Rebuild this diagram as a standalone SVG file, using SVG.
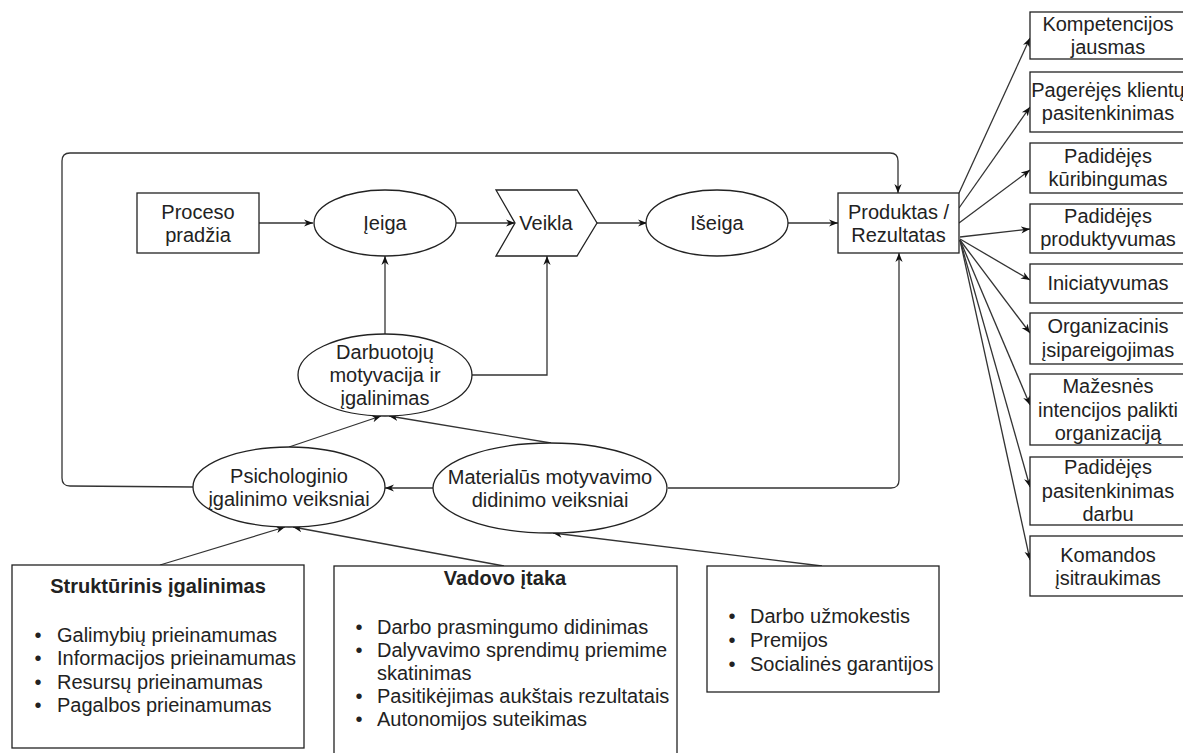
<svg xmlns="http://www.w3.org/2000/svg" width="1183" height="753" viewBox="0 0 1183 753">
<style>
text{font-family:"Liberation Sans",Arial,sans-serif;font-size:20px;fill:#222}
.c{text-anchor:middle}
.b{font-weight:bold}
.n{fill:#fff;stroke:#222;stroke-width:1.3}
.e{fill:none;stroke:#333;stroke-width:1.3}
</style>
<defs>
<marker id="a" viewBox="0 0 10 10" refX="10" refY="5" markerWidth="9" markerHeight="9" markerUnits="userSpaceOnUse" orient="auto"><path d="M0,1 L10,5 L0,9 L3,5 z" fill="#111"/></marker>
</defs>
<rect width="1183" height="753" fill="#fff"/>
<g id="connectors" class="e" marker-end="url(#a)">
<path d="M259,223 H313"/>
<path d="M456,223 H515"/>
<path d="M597,223 H647"/>
<path d="M788,223 H838"/>
<path d="M385,334 V256"/>
<path d="M472,375 H547 V256"/>
<path d="M289,447 L381,416"/>
<path d="M551,443 L389,416"/>
<path d="M433,488 H385"/>
<path d="M193,487 L70,486 Q62,486 62,478 V161 Q62,153 70,153 H890 Q898,153 898,161 V193"/>
<path d="M668,488 H891 Q899,488 899,480 V253"/>
<path d="M160,565 L285,527"/>
<path d="M504,566 L293,527"/>
<path d="M822,566 L553,533"/>
<path d="M959,193 L1030,38"/>
<path d="M959,208 L1030,107"/>
<path d="M959,223 L1030,170"/>
<path d="M960,237 L1030,229"/>
<path d="M960,239 L1030,280"/>
<path d="M960,240 L1030,333"/>
<path d="M960,240 L1030,405"/>
<path d="M960,240 L1030,487"/>
<path d="M960,240 L1030,560"/>
</g>
<g id="proceso"><rect class="n" x="137" y="193" width="122" height="60"/><text class="c" x="198" y="219">Proceso</text><text class="c" x="198" y="242">pradžia</text></g>
<g id="ieiga"><ellipse class="n" cx="385" cy="223" rx="71" ry="33"/><text class="c" x="385" y="230">Įeiga</text></g>
<g id="veikla"><polygon class="n" points="496,190 577,190 597,223 577,256 496,256 515,223"/><text class="c" x="546" y="230">Veikla</text></g>
<g id="iseiga"><ellipse class="n" cx="717" cy="223" rx="71" ry="33"/><text class="c" x="717" y="230">Išeiga</text></g>
<g id="produktas"><rect class="n" x="838" y="193" width="121" height="60"/><text class="c" x="898.5" y="219">Produktas /</text><text class="c" x="898.5" y="242">Rezultatas</text></g>
<g id="darbuotoju"><ellipse class="n" cx="385" cy="375" rx="87" ry="41"/><text class="c" x="385" y="359">Darbuotojų</text><text class="c" x="385" y="382">motyvacija ir</text><text class="c" x="385" y="405">įgalinimas</text></g>
<g id="psichologinio"><ellipse class="n" cx="289" cy="487" rx="96" ry="40"/><text class="c" x="289" y="483">Psichologinio</text><text class="c" x="289" y="506">įgalinimo veiksniai</text></g>
<g id="materialus"><ellipse class="n" cx="550" cy="488" rx="117" ry="45"/><text class="c" x="550" y="484">Materialūs motyvavimo</text><text class="c" x="550" y="507">didinimo veiksniai</text></g>
<g id="strukturinis"><rect class="n" x="12" y="565" width="292" height="183"/><text class="c b" x="158" y="593">Struktūrinis įgalinimas</text>
<text class="c" x="38" y="642">•</text><text x="57" y="642">Galimybių prieinamumas</text>
<text class="c" x="38" y="665">•</text><text x="57" y="665">Informacijos prieinamumas</text>
<text class="c" x="38" y="689">•</text><text x="57" y="689">Resursų prieinamumas</text>
<text class="c" x="38" y="712">•</text><text x="57" y="712">Pagalbos prieinamumas</text></g>
<g id="vadovo"><rect class="n" x="334" y="566" width="343" height="200"/><text class="c b" x="505" y="585">Vadovo įtaka</text>
<text class="c" x="359" y="634">•</text><text x="377" y="634">Darbo prasmingumo didinimas</text>
<text class="c" x="359" y="657">•</text><text x="377" y="657">Dalyvavimo sprendimų priemime</text>
<text x="377" y="680">skatinimas</text>
<text class="c" x="359" y="703">•</text><text x="377" y="703">Pasitikėjimas aukštais rezultatais</text>
<text class="c" x="359" y="726">•</text><text x="377" y="726">Autonomijos suteikimas</text></g>
<g id="materialiniai"><rect class="n" x="707" y="566" width="232" height="126"/>
<text class="c" x="732" y="623">•</text><text x="750" y="623">Darbo užmokestis</text>
<text class="c" x="732" y="647">•</text><text x="750" y="647">Premijos</text>
<text class="c" x="732" y="671">•</text><text x="750" y="671">Socialinės garantijos</text></g>
<g id="r1"><rect class="n" x="1030" y="12" width="160" height="47"/><text class="c" x="1108" y="31">Kompetencijos</text><text class="c" x="1108" y="54">jausmas</text></g>
<g id="r2"><rect class="n" x="1030" y="72" width="160" height="60"/><text class="c" x="1108" y="97">Pagerėjęs klientų</text><text class="c" x="1108" y="120">pasitenkinimas</text></g>
<g id="r3"><rect class="n" x="1030" y="143" width="160" height="50"/><text class="c" x="1108" y="163">Padidėjęs</text><text class="c" x="1108" y="186">kūribingumas</text></g>
<g id="r4"><rect class="n" x="1030" y="204" width="160" height="49"/><text class="c" x="1108" y="223">Padidėjęs</text><text class="c" x="1108" y="246">produktyvumas</text></g>
<g id="r5"><rect class="n" x="1030" y="264" width="160" height="39"/><text class="c" x="1108" y="290">Iniciatyvumas</text></g>
<g id="r6"><rect class="n" x="1030" y="313" width="160" height="51"/><text class="c" x="1108" y="333">Organizacinis</text><text class="c" x="1108" y="357">įsipareigojimas</text></g>
<g id="r7"><rect class="n" x="1030" y="374" width="160" height="71"/><text class="c" x="1108" y="393">Mažesnės</text><text class="c" x="1108" y="417">intencijos palikti</text><text class="c" x="1108" y="440">organizaciją</text></g>
<g id="r8"><rect class="n" x="1030" y="457" width="160" height="68"/><text class="c" x="1108" y="474">Padidėjęs</text><text class="c" x="1108" y="498">pasitenkinimas</text><text class="c" x="1108" y="521">darbu</text></g>
<g id="r9"><rect class="n" x="1030" y="536" width="160" height="60"/><text class="c" x="1108" y="562">Komandos</text><text class="c" x="1108" y="585">įsitraukimas</text></g>
</svg>
